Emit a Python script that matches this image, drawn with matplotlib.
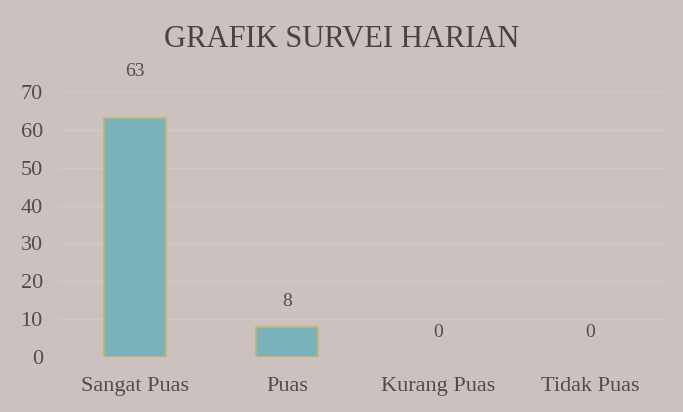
import matplotlib.pyplot as plt

categories = ['Sangat Puas', 'Puas', 'Kurang Puas', 'Tidak Puas']
values = [63, 8, 0, 0]
y_ticks = [0, 10, 20, 30, 40, 50, 60, 70]

bg = '#cbc1be'
text_color = '#554b49'

plt.rcParams['font.family'] = ['Liberation Serif', 'DejaVu Serif']

fig, ax = plt.subplots(figsize=(6.83, 4.12), dpi=100)
fig.patch.set_facecolor(bg)
ax.set_facecolor(bg)

x = range(len(categories))
bars = ax.bar(x, values, width=0.41, color='#7ab3bb', edgecolor='#c9b36a', linewidth=1.2, zorder=3)
# empty bars get no outline
for b, v in zip(bars, values):
    if v == 0:
        b.set_linewidth(0)

# value labels above bars (the tall one sits higher in the original)
for i, v in enumerate(values):
    off = 28 if v > 60 else 12
    ax.annotate(str(v), (i, v), xytext=(0, off), textcoords='offset points',
                ha='center', va='bottom', fontsize=14, color=text_color)

ax.set_xlim(-0.5, len(categories) - 0.5)
ax.set_ylim(0, 70)
ax.set_yticks(y_ticks)
ax.set_xticks(list(x))
ax.set_xticklabels(categories)
ax.tick_params(axis='both', length=0, labelsize=16, colors=text_color)
ax.tick_params(axis='y', pad=12)
ax.tick_params(axis='x', pad=14)
ax.grid(axis='y', color='#d1c9c7', linewidth=1, zorder=0)
for s in ax.spines.values():
    s.set_visible(False)

fig.suptitle('GRAFIK SURVEI HARIAN', fontsize=22, color='#4a4240', y=0.94)
fig.subplots_adjust(left=0.087, right=0.975, bottom=0.133, top=0.777)
fig.savefig('out.png', dpi=100, facecolor=bg)
